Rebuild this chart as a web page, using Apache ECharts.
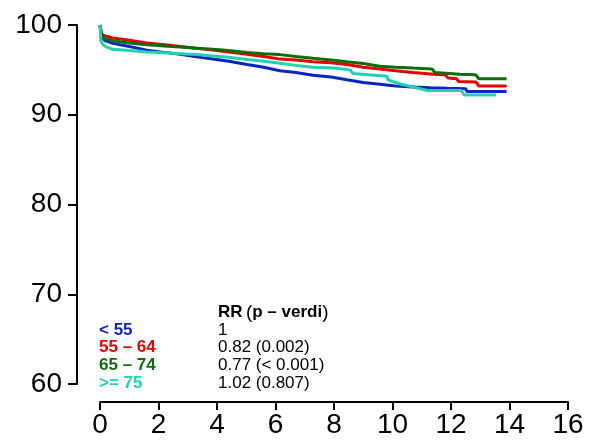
<!DOCTYPE html>
<html>
<head>
<meta charset="utf-8">
<script src="https://cdn.jsdelivr.net/npm/echarts@6/dist/echarts.min.js"></script>
<style>
  body, html { margin: 0; padding: 0; background: #ffffff; }
  #chart { width: 597px; height: 443px; }
</style>
</head>
<body>
<div id="chart"></div>
<script type="text/javascript">
  // values (years, % surviving)
  const groups = ["< 55", "55 \u2013 64", "65 \u2013 74", ">= 75"];
  const rrText = ["1", "0.82 (0.002)", "0.77 (< 0.001)", "1.02 (0.807)"];
  const colors = ["#0b24c4", "#e60000", "#0b6e0b", "#1fd3b2"];
  const xTicks = [0, 2, 4, 6, 8, 10, 12, 14, 16];
  const yTicks = [60, 70, 80, 90, 100];

  const tBlue = [0, 0.05, 0.15, 0.44, 1.0, 1.6, 2.2, 2.74, 3.3, 3.86, 4.4, 5.03, 5.6, 6.15, 6.7, 7.28, 7.9, 8.44, 9.0, 9.57, 10.1, 10.7, 11.3, 11.86, 12.5, 12.55, 13.9];
  const vBlue = [100, 98.8, 98.3, 97.95, 97.6, 97.2, 96.95, 96.75, 96.45, 96.2, 95.95, 95.6, 95.3, 94.9, 94.7, 94.4, 94.2, 93.9, 93.6, 93.4, 93.2, 93.1, 93.0, 92.95, 92.9, 92.6, 92.6];

  const tRed = [0, 0.05, 0.15, 0.44, 1.0, 1.6, 2.2, 2.74, 3.3, 3.86, 4.4, 5.03, 5.6, 6.15, 6.7, 7.28, 7.9, 8.44, 9.0, 9.57, 10.1, 10.7, 11.4, 11.8, 11.9, 12.2, 12.25, 12.85, 12.95, 13.9];
  const vRed = [100, 99.0, 98.8, 98.55, 98.3, 98.0, 97.8, 97.6, 97.4, 97.2, 97.0, 96.75, 96.5, 96.2, 96.1, 95.9, 95.8, 95.6, 95.3, 95.1, 94.9, 94.7, 94.5, 94.45, 94.1, 94.0, 93.7, 93.65, 93.2, 93.2];

  const tGreen = [0, 0.05, 0.15, 0.44, 1.0, 1.6, 2.2, 2.74, 3.3, 3.86, 4.4, 5.03, 5.6, 6.15, 6.7, 7.28, 7.9, 8.44, 9.0, 9.57, 10.1, 10.7, 11.35, 11.45, 12.3, 12.85, 12.95, 13.9];
  const vGreen = [100, 98.8, 98.5, 98.25, 98.0, 97.8, 97.65, 97.55, 97.4, 97.3, 97.15, 96.95, 96.8, 96.7, 96.5, 96.3, 96.1, 95.9, 95.7, 95.4, 95.3, 95.2, 95.1, 94.7, 94.5, 94.45, 94.0, 94.0];

  const tTeal = [0, 0.03, 0.1, 0.25, 0.44, 1.0, 1.6, 2.2, 2.74, 3.3, 3.86, 4.4, 5.03, 5.6, 6.15, 6.7, 7.28, 8.0, 8.55, 8.65, 9.8, 9.85, 10.0, 10.3, 10.7, 11.2, 12.35, 12.45, 13.54];
  const vTeal = [100, 98.2, 97.8, 97.5, 97.3, 97.15, 97.0, 96.9, 96.8, 96.7, 96.55, 96.4, 96.15, 95.95, 95.75, 95.5, 95.3, 95.2, 95.0, 94.6, 94.3, 93.9, 93.7, 93.4, 93.1, 92.7, 92.7, 92.2, 92.2];

  const times = [tBlue, tRed, tGreen, tTeal];
  const values = [vBlue, vRed, vGreen, vTeal];

  const zip = (t, v) => t.map((x, i) => [x, v[i]]);
  const font = "Liberation Sans, Arial, Helvetica, sans-serif";

  let chart = echarts.init(document.getElementById("chart"));

  let series = groups.map((name, i) => ({
    name: name,
    type: "line",
    showSymbol: false,
    clip: false,
    data: zip(times[i], values[i]),
    lineStyle: { color: colors[i], width: 3 },
    itemStyle: { color: colors[i] },
  }));

  // legend block: group labels + RR column
  let graphics = [];
  const rowY = [330.5, 348.3, 366, 384];
  groups.forEach((name, i) => {
    graphics.push({
      type: "text",
      left: 99,
      top: rowY[i] - 9,
      style: {
        text: name,
        fill: colors[i],
        font: "bold 17px " + font,
      },
    });
    graphics.push({
      type: "text",
      left: 218,
      top: rowY[i] - 9,
      style: {
        text: rrText[i],
        fill: "#000",
        font: "17px " + font,
      },
    });
  });
  graphics.push({
    type: "text",
    left: 218,
    top: 303,
    style: {
      text: "{b|RR} {n|(}{b|p \u2013 verdi}{n|)}",
      fill: "#000",
      rich: {
        b: { font: "bold 17px " + font, fill: "#000" },
        n: { font: "19px " + font, fill: "#000" },
      },
    },
  });

  let option = {
    backgroundColor: "#ffffff",
    animation: false,
    grid: { left: 100, right: 29, top: 25, bottom: 59 },
    xAxis: {
      type: "value",
      min: xTicks[0],
      max: xTicks[xTicks.length - 1],
      interval: 2,
      offset: 18,
      splitLine: { show: false },
      axisLine: { onZero: false, lineStyle: { color: "#000", width: 2 } },
      axisTick: { length: 8, lineStyle: { color: "#000", width: 2 } },
      axisLabel: { color: "#000", fontSize: 28, fontFamily: font, margin: 9 },
    },
    yAxis: {
      type: "value",
      min: yTicks[0],
      max: yTicks[yTicks.length - 1],
      interval: 10,
      offset: 23,
      splitLine: { show: false },
      axisLine: { show: true, onZero: false, lineStyle: { color: "#000", width: 2 } },
      axisTick: { show: true, length: 9, lineStyle: { color: "#000", width: 2 } },
      axisLabel: { color: "#000", fontSize: 28, fontFamily: font, margin: 15 },
    },
    series: series,
    graphic: graphics,
  };
  chart.setOption(option);
</script>
</body>
</html>
